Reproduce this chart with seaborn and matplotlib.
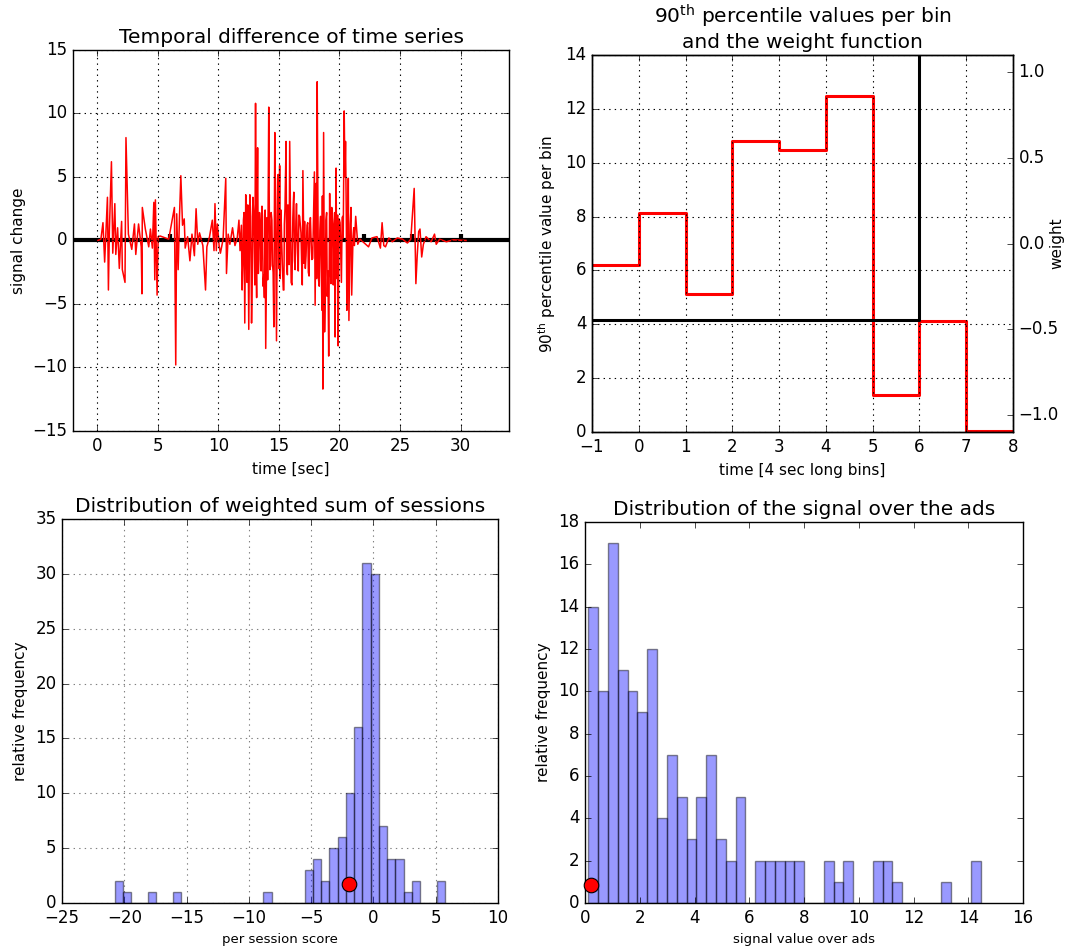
import numpy as np
import pandas as pd
import matplotlib
matplotlib.use('Agg')
import matplotlib.pyplot as plt
import seaborn as sns

# --- temporal difference of the time series ---
diff_time = [0.05, 0.30, 0.47, 0.61, 0.84, 0.92, 1.00, 1.17, 1.28, 1.45, 1.53, 1.68, 1.82, 2.01, 2.07,
             2.29, 2.37, 2.57, 2.85, 3.07, 3.18, 3.41, 3.63, 3.69, 3.72, 3.97, 4.25, 4.39, 4.55, 4.67,
             4.75, 4.80, 4.94, 5.03, 5.20, 5.90, 6.37, 6.48, 6.56, 6.68, 6.79, 6.90, 7.04, 7.18, 7.26,
             7.46, 7.65, 7.82, 8.02, 8.16, 8.30, 8.44, 8.72, 8.94, 9.05, 9.27, 9.50, 9.64, 9.72, 9.83,
             9.92, 10.06, 10.17, 10.39, 10.61, 10.67, 10.81, 10.95, 11.17, 11.37, 11.56, 11.70, 11.79, 11.90, 11.96,
             12.07, 12.18, 12.26, 12.37, 12.51, 12.60, 12.74, 12.85, 12.96, 13.07, 13.16, 13.24, 13.35, 13.46, 13.60,
             13.69, 13.80, 13.91, 14.02, 14.16, 14.25, 14.36, 14.47, 14.58, 14.66, 14.80, 14.89, 14.94, 15.06, 15.11,
             15.22, 15.36, 15.45, 15.59, 15.70, 15.78, 15.89, 16.01, 16.15, 16.23, 16.34, 16.45, 16.54, 16.65, 16.76,
             16.87, 16.98, 17.07, 17.18, 17.32, 17.43, 17.54, 17.65, 17.79, 17.93, 17.99, 18.07, 18.16, 18.27, 18.38,
             18.49, 18.55, 18.63, 18.69, 18.77, 18.88, 18.99, 19.11, 19.19, 19.30, 19.44, 19.55, 19.64, 19.72, 19.80,
             19.89, 19.97, 20.11, 20.22, 20.31, 20.39, 20.45, 20.50, 20.61, 20.73, 20.78, 20.89, 21.01, 21.12, 21.23,
             21.34, 21.51, 21.70, 22.40, 22.68, 23.10, 23.38, 23.52, 23.66, 23.80, 24.08, 24.36, 24.78, 25.20, 25.61,
             25.89, 26.17, 26.31, 26.42, 26.54, 26.65, 26.79, 26.93, 27.15, 27.57, 27.85, 27.99, 28.27, 28.83, 29.39,
             30.45]
diff_value = [0.0, 0.1, 1.4, -1.7, 3.4, -3.9, 0.8, 6.2, -1.0, 2.9, -1.1, 1.0, -2.2, 1.5, -2.3,
              -3.3, 8.1, 0.5, -0.7, 1.3, -1.1, 1.3, -0.5, -4.2, 2.6, 0.9, -0.5, 0.9, -0.6, 3.0,
              -3.1, 3.2, -4.3, 0.3, 0.35, 0.1, 2.6, -9.8, 2.1, -2.3, 1.9, 5.1, 1.2, 1.7, -0.6,
              0.3, -1.6, 0.5, -1.2, 2.5, -0.3, 0.6, -0.4, -3.9, -0.5, 0.3, 1.6, -0.8, 2.9, -0.8,
              1.3, -0.4, -1.0, 0.1, 4.9, -2.6, 0.5, -0.3, 1.0, -0.4, 0.2, 1.6, -0.8, 1.2, -3.9,
              1.6, -6.5, 3.6, -3.3, -7.0, 3.6, -6.5, 3.4, 0.2, 10.8, -4.5, 7.3, -1.5, 1.3, 2.7,
              -3.6, -4.5, -8.5, 1.8, 10.5, -2.3, 2.2, -1.9, -6.8, 8.5, -7.9, 4.9, 5.2, 5.9, -3.0,
              0.3, -3.9, 1.3, 7.8, -2.7, 2.2, 7.8, -3.3, 1.8, 3.8, -2.3, 2.9, -1.0, 2.0, 1.3,
              -1.5, 5.5, -1.8, -2.2, 1.2, -2.5, 1.0, 0.2, -1.4, 5.4, -5.1, 4.5, 12.5, -3.1, 0.8,
              -1.5, -5.5, -11.7, 8.5, -7.2, 1.6, -4.4, -9.1, 3.7, -3.4, 1.2, 0.8, -7.6, 5.7, 1.5,
              -8.3, 1.7, -1.1, 1.8, 0.2, 10.2, 5.0, 7.8, -5.5, 4.9, -6.3, 1.3, -4.3, 0.3, -0.4,
              1.9, -0.3, 0.1, -0.5, 0.2, 0.3, -0.6, 1.4, -0.4, -0.5, 0.2, -0.1, 0.2, 0.1, -0.2,
              0.1, 4.1, -3.4, -1.2, 0.7, 0.9, -1.3, -0.3, 0.3, -0.1, 0.5, -0.3, 0.1, -0.1, 0.05,
              0.0]
# smaller swings inside the busy stretch (12-21 sec)
busy_time = [12.02, 12.12, 12.32, 12.43, 12.55, 12.67, 12.80, 12.91, 13.01, 13.12, 13.20, 13.30, 13.40,
             13.53, 13.64, 13.75, 13.86, 14.07, 14.20, 14.31, 14.42, 14.52, 14.72, 15.01, 15.17, 15.28,
             15.41, 15.50, 15.64, 15.74, 15.84, 15.95, 16.08, 16.19, 16.29, 16.40, 16.60, 16.71, 16.82,
             16.93, 17.12, 17.24, 17.38, 17.49, 17.60, 17.72, 17.84, 18.11, 18.22, 18.33, 18.44, 18.59,
             18.83, 18.94, 19.05, 19.25, 19.36, 19.49, 19.60, 19.77, 19.85, 19.94, 20.05, 20.16, 20.27,
             20.56, 20.67, 20.84, 20.95, 21.06, 21.18]
busy_value = [-2.0, 2.2, -1.5, 2.8, -2.5, 1.9, -3.0, 2.3, -3.5, -2.0, 3.0, -2.6, 2.2,
              -2.4, 1.9, -2.7, 2.4, -3.1, 3.2, -2.0, 1.6, -2.5, 2.1, -2.2, 2.4, -1.8,
              -3.9, 2.5, -2.0, 2.8, -1.9, 2.6, -3.5, 3.0, -1.6, 1.5, -2.4, 1.9, 0.6,
              -3.5, 1.5, -1.2, 1.4, -2.8, 1.8, -1.5, 1.1, -3.0, 2.8, -3.6, 1.9, 3.5,
              -3.8, 2.2, -2.4, -2.2, 2.6, -3.5, 2.2, -3.0, 2.0, -2.6, 1.4, -3.3, 1.9,
              2.3, -2.5, -1.8, 2.6, -2.3, 1.0]
ad_times = [6, 22, 26, 30]
ad_height = 0.5

# --- 90th percentile per 4 sec bin and the weight function ---
bin_edges = [-1, 0, 1, 2, 3, 4, 5, 6, 7, 8]
bin_p90 = [6.22, 8.13, 5.14, 10.80, 10.47, 12.49, 1.37, 4.11, 0.03]
bin_weight = [-0.445, -0.445, -0.445, -0.445, -0.445, -0.445, -0.445, 1.5, 1.5]

# --- weighted sum of sessions (40 bins) ---
session_range = (-20.75, 5.73)
session_counts = [2, 1, 0, 0, 1, 0, 0, 1, 0, 0,
                  0, 0, 0, 0, 0, 0, 0, 0, 1, 0,
                  0, 0, 0, 3, 4, 2, 5, 6, 10, 16,
                  31, 30, 7, 4, 4, 1, 2, 0, 0, 2]
session_marker = (-1.97, 1.73)

# --- signal over the ads (40 bins) ---
ads_range = (0.125, 14.45)
ads_counts = [14, 10, 17, 11, 10, 9, 12, 4, 7, 5,
              3, 5, 7, 3, 2, 5, 0, 2, 2, 2,
              2, 2, 0, 0, 2, 1, 2, 0, 0, 2,
              2, 1, 0, 0, 0, 0, 1, 0, 0, 2]
ads_marker = (0.2, 0.86)

plt.style.use('classic')
plt.rcParams['font.family'] = ['DejaVu Sans']
plt.rcParams['mathtext.fontset'] = 'dejavusans'
plt.rcParams['figure.facecolor'] = 'white'
plt.rcParams['savefig.facecolor'] = 'white'

fig = plt.figure(figsize=(10.68, 9.52), dpi=100)
ax1 = fig.add_axes([0.0684, 0.5473, 0.4082, 0.4002])
ax2 = fig.add_axes([0.5543, 0.5462, 0.3942, 0.3960])
ax3 = fig.add_axes([0.0581, 0.0515, 0.4082, 0.4034])
ax4 = fig.add_axes([0.5478, 0.0515, 0.4101, 0.4002])

title_fs = 14.5
label_fs = 11
tick_fs = 12
bar_edge = (0, 0, 0, 0.45)


def hist_frame(counts, lo, hi):
    edges = np.linspace(lo, hi, len(counts) + 1)
    centers = (edges[:-1] + edges[1:]) / 2
    return pd.DataFrame({'x': centers, 'n': counts})


# Temporal difference of time series
ts = pd.DataFrame({'t': diff_time + busy_time, 'v': diff_value + busy_value}).sort_values('t')
ax1.axhline(0, color='black', lw=3, zorder=1)
ax1.vlines(ad_times, 0, ad_height, color='black', lw=3, zorder=1)
sns.lineplot(data=ts, x='t', y='v', ax=ax1, color='red', lw=1.1,
             estimator=None, sort=False, zorder=2)
ax1.set_xlim(-2, 34)
ax1.set_ylim(-15, 15)
ax1.set_xticks(range(0, 31, 5))
ax1.set_yticks(range(-15, 16, 5))
ax1.grid(True, color='black', linestyle=':', lw=0.8)
ax1.set_title('Temporal difference of time series', fontsize=title_fs)
ax1.set_xlabel('time [sec]', fontsize=label_fs)
ax1.set_ylabel('signal change', fontsize=label_fs)

# 90th percentile + weight function
p90 = pd.DataFrame({'t': bin_edges, 'v': bin_p90 + [bin_p90[-1]]})
sns.lineplot(data=p90, x='t', y='v', ax=ax2, color='red', lw=2.2,
             drawstyle='steps-post', estimator=None)
ax2.set_xlim(-1, 8)
ax2.set_ylim(0, 14)
ax2.set_xticks(range(-1, 9))
ax2.set_yticks(range(0, 15, 2))
ax2.grid(True, color='black', linestyle=':', lw=0.8)
ax2.set_title('90$^{\\mathrm{th}}$ percentile values per bin\nand the weight function', fontsize=title_fs)
ax2.set_xlabel('time [4 sec long bins]', fontsize=label_fs)
ax2.set_ylabel('90$^{\\mathrm{th}}$ percentile value per bin', fontsize=label_fs)
ax2b = ax2.twinx()
wt = pd.DataFrame({'t': bin_edges, 'w': bin_weight + [bin_weight[-1]]})
sns.lineplot(data=wt, x='t', y='w', ax=ax2b, color='black', lw=2.2,
             drawstyle='steps-post', estimator=None)
ax2b.set_ylim(-1.1, 1.1)
ax2b.set_yticks([-1.0, -0.5, 0.0, 0.5, 1.0])
ax2b.set_ylabel('weight', fontsize=label_fs)
ax2b.yaxis.set_label_coords(1.087, 0.5)
ax2b.set_xlim(-1, 8)

# Distribution of weighted sum of sessions
sess_df = hist_frame(session_counts, *session_range)
sns.histplot(data=sess_df, x='x', weights='n', bins=len(session_counts), binrange=session_range,
             ax=ax3, color='blue', alpha=0.4, edgecolor=bar_edge, linewidth=1)
sns.scatterplot(x=[session_marker[0]], y=[session_marker[1]], ax=ax3, s=110,
                color='red', edgecolor='black', linewidth=0.8, zorder=5)
ax3.set_xlim(-25, 10)
ax3.set_ylim(0, 35)
ax3.set_xticks(range(-25, 11, 5))
ax3.set_yticks(range(0, 36, 5))
ax3.grid(True, color='gray', linestyle=':', lw=0.8)
ax3.set_axisbelow(True)
ax3.set_title('Distribution of weighted sum of sessions', fontsize=title_fs)
ax3.set_xlabel('per session score', fontsize=9.5)
ax3.set_ylabel('relative frequency', fontsize=label_fs)

# Distribution of the signal over the ads
ads_df = hist_frame(ads_counts, *ads_range)
sns.histplot(data=ads_df, x='x', weights='n', bins=len(ads_counts), binrange=ads_range,
             ax=ax4, color='blue', alpha=0.4, edgecolor=bar_edge, linewidth=1)
sns.scatterplot(x=[ads_marker[0]], y=[ads_marker[1]], ax=ax4, s=110,
                color='red', edgecolor='black', linewidth=0.8, zorder=5, clip_on=False)
ax4.set_xlim(0, 16)
ax4.set_ylim(0, 18)
ax4.set_xticks(range(0, 17, 2))
ax4.set_yticks(range(0, 19, 2))
ax4.grid(False)
ax4.set_title('Distribution of the signal over the ads', fontsize=title_fs)
ax4.set_xlabel('signal value over ads', fontsize=9.5)
ax4.set_ylabel('relative frequency', fontsize=label_fs)

for ax in (ax1, ax2, ax2b, ax3, ax4):
    ax.tick_params(labelsize=tick_fs)

fig.savefig('out.png', dpi=100)
